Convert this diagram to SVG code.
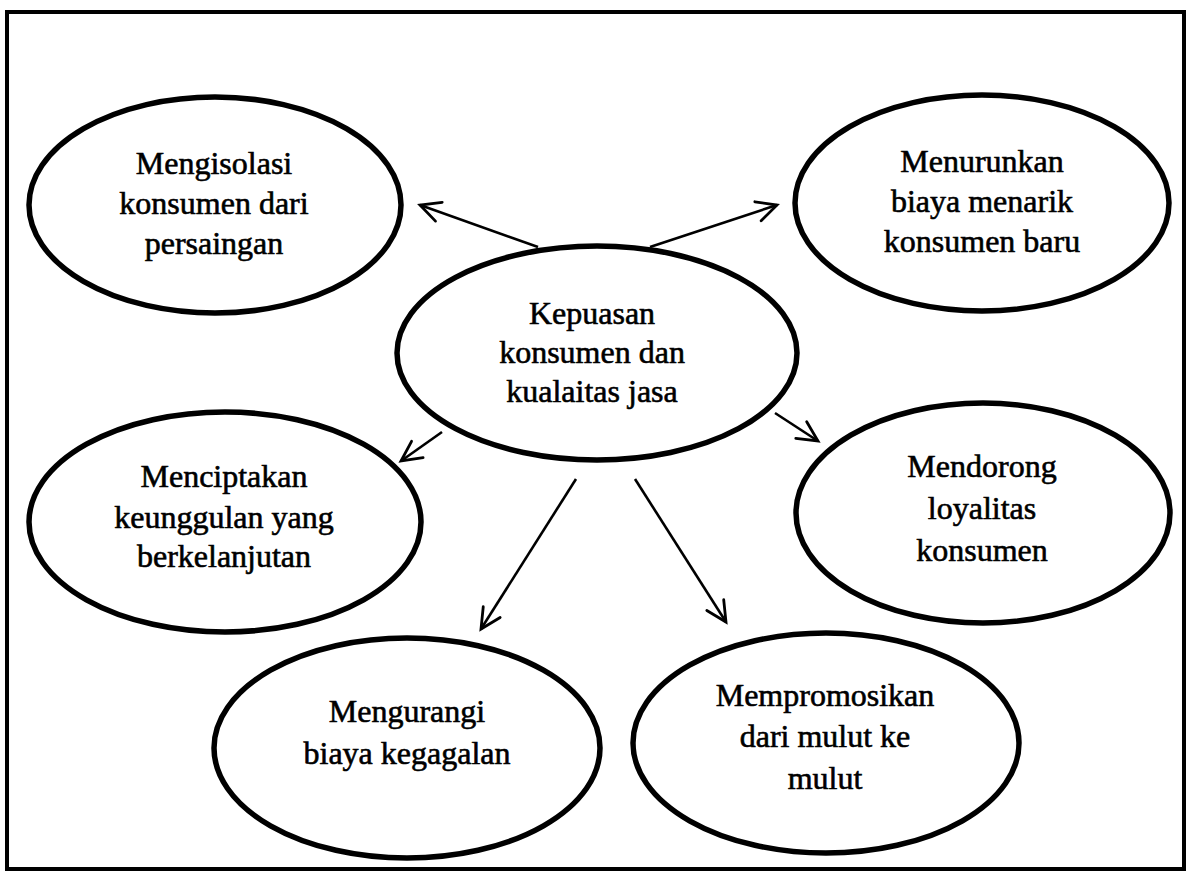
<svg xmlns="http://www.w3.org/2000/svg" width="1190" height="876" viewBox="0 0 1190 876">
<style>
.node ellipse{fill:#fff;stroke:#000;stroke-width:5.5}
.node text{font-family:"Liberation Serif","Times New Roman",serif;font-size:32px;fill:#000;stroke:#000;stroke-width:0.6;text-anchor:middle}
.edge{stroke:#000;stroke-width:2.6;fill:none;marker-end:url(#arr)}
</style>
<defs>
<marker id="arr" markerUnits="userSpaceOnUse" markerWidth="30" markerHeight="30" viewBox="-25 -15 30 30" refX="0" refY="0" orient="auto">
<path d="M -20 -10 L 0 0 L -20 10" fill="none" stroke="#000" stroke-width="2.8" stroke-linecap="round" stroke-linejoin="miter"/>
</marker>
</defs>
<rect x="0" y="0" width="1190" height="876" fill="#fff"/>
<rect x="7" y="12" width="1177" height="857" fill="none" stroke="#000" stroke-width="4"/>
<g id="n1" class="node"><ellipse cx="215" cy="205" rx="186" ry="108"/>
<text x="214" y="174">Mengisolasi</text><text x="214" y="214">konsumen dari</text><text x="214" y="254">persaingan</text></g>
<g id="n2" class="node"><ellipse cx="982" cy="203" rx="187" ry="108"/>
<text x="982" y="172">Menurunkan</text><text x="982" y="212">biaya menarik</text><text x="982" y="252">konsumen baru</text></g>
<g id="n0" class="node"><ellipse cx="597" cy="353" rx="200" ry="107"/>
<text x="592" y="324">Kepuasan</text><text x="592" y="363">konsumen dan</text><text x="592" y="402">kualaitas jasa</text></g>
<g id="n3" class="node"><ellipse cx="225" cy="522" rx="196" ry="110"/>
<text x="224" y="487">Menciptakan</text><text x="224" y="528">keunggulan yang</text><text x="224" y="567">berkelanjutan</text></g>
<g id="n4" class="node"><ellipse cx="983" cy="513" rx="187" ry="110"/>
<text x="982" y="477">Mendorong</text><text x="982" y="519">loyalitas</text><text x="982" y="561">konsumen</text></g>
<g id="n5" class="node"><ellipse cx="407" cy="748" rx="193" ry="110"/>
<text x="407" y="722">Mengurangi</text><text x="407" y="764">biaya kegagalan</text></g>
<g id="n6" class="node"><ellipse cx="826" cy="743" rx="193" ry="110"/>
<text x="825" y="706">Mempromosikan</text><text x="825" y="747">dari mulut ke</text><text x="825" y="789">mulut</text></g>
<g id="edges">
<line class="edge" x1="538" y1="247" x2="420" y2="205"/>
<line class="edge" x1="650" y1="247" x2="777" y2="205"/>
<line class="edge" x1="442" y1="432" x2="401" y2="461"/>
<line class="edge" x1="775" y1="413" x2="818" y2="441"/>
<line class="edge" x1="576" y1="479" x2="481" y2="629"/>
<line class="edge" x1="635" y1="479" x2="726" y2="622"/>
</g>
</svg>
